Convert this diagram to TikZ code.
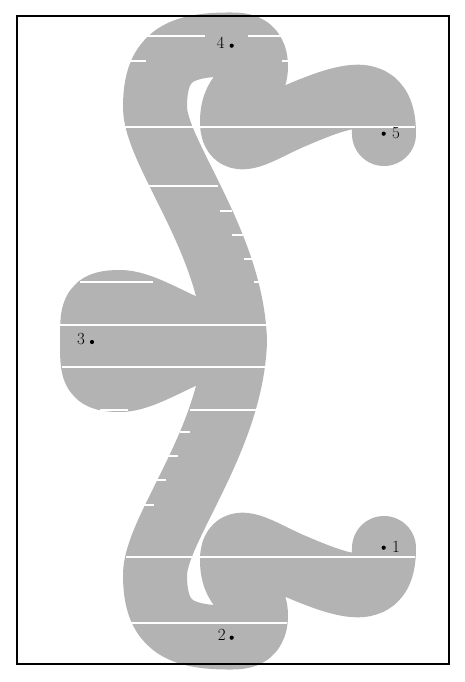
\documentclass[tikz,border=0pt]{standalone}
\definecolor{shapegray}{RGB}{179,179,179}
\newcommand\halfpath{(384,548) .. controls (384,600) and (350,590) .. (290,564)
  .. controls (260,551) and (232,530) .. (232,560)
  .. controls (232,595) and (256,590) .. (256,615)
  .. controls (256,635) and (245,637.5) .. (232,637.5)
  .. controls (178,638) and (155,625) .. (155,575)
  .. controls (155,530) and (232,440) .. (235,341)
  .. controls (195,340) and (150,302) .. (120,302)
  .. controls (92,302) and (92,310) .. (92,341) -- (200,341)}
\begin{document}
\begin{tikzpicture}[x=1pt,y=-1pt,
  pen/.style={line width=64pt, draw=shapegray, line cap=round, line join=round},
  scan/.style={draw=white, line width=1.3pt},
  ptdot/.style={fill=black, circle, inner sep=0pt, minimum size=4.2pt},
  lbl/.style={inner sep=0pt, font=\fontsize{17}{17}\selectfont}]
\useasboundingbox (0,0) rectangle (464,682);
% thick curve: lower half and its mirror image
\draw[pen] \halfpath;
\begin{scope}[shift={(0,341)},yscale=-1,shift={(0,-341)}]
  \draw[pen] \halfpath;
\end{scope}
% scan gaps
\foreach \yy/\xa/\xb in {36/147/205, 36/248/282, 61/128/146, 61/282/288,
  127/125/415, 186/148/218, 211/220/232, 235/232/243, 259/244/253,
  282/80/153, 282/254/263, 325/60/268, 367/62/267, 410/100/128,
  410/190/257, 432/180/190, 456/167/178, 480/157/166, 505/145/154,
  557/126/415, 623/130/287}
  \draw[scan] (\xa,\yy) -- (\xb,\yy);
% frame
\draw[line width=2pt] (17,16) rectangle (448.7,664);
% points and labels
\node[ptdot] (d1) at (383.7,547.7) {};
\node[ptdot] (d2) at (231.7,637.7) {};
\node[ptdot] (d3) at (92,342) {};
\node[ptdot] (d4) at (231.7,45.7) {};
\node[ptdot] (d5) at (383.7,133.7) {};
\node[lbl] (l1) at (396,546.7) {1};
\node[lbl] (l2) at (221.7,635) {2};
\node[lbl] (l3) at (81,339.5) {3};
\node[lbl] (l4) at (220.5,43) {4};
\node[lbl] (l5) at (396,133.3) {5};
\end{tikzpicture}
\end{document}
